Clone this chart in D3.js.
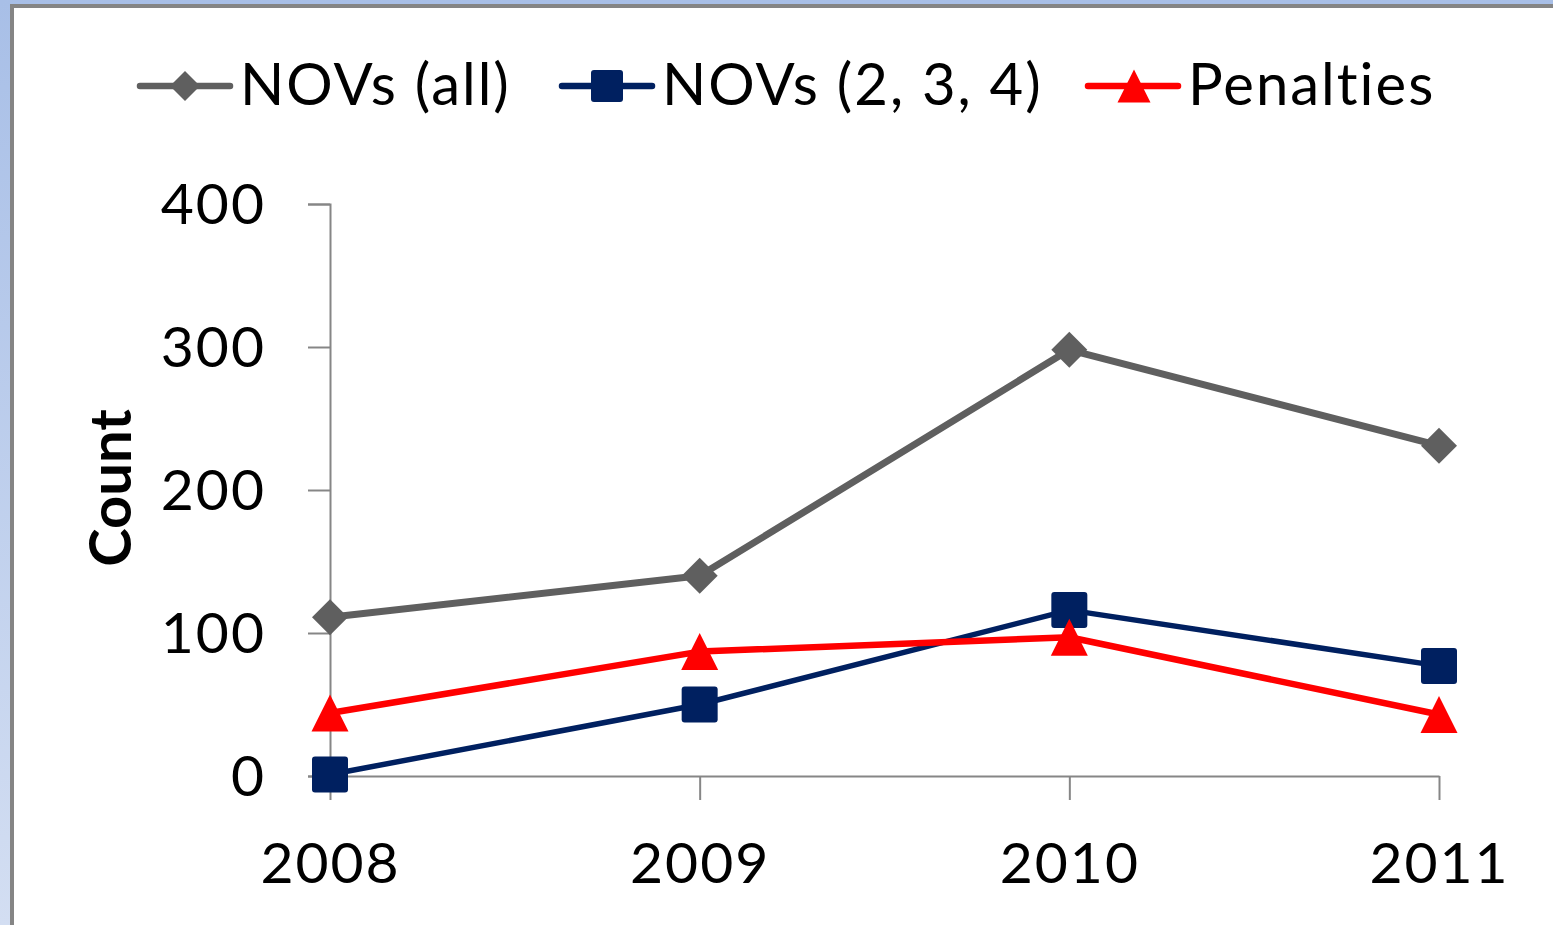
<!DOCTYPE html>
<html>
<head>
<meta charset="utf-8">
<script src="https://cdn.jsdelivr.net/npm/d3@7"></script>
<style>
  body { margin: 0; background: #fff; }
  svg { display: block; font-family: Lato, "Open Sans", sans-serif; font-variant-ligatures: none; }
</style>
</head>
<body>
<div id="chart"></div>
<script>
// data
var years = ["2008", "2009", "2010", "2011"];
var novsAll = [111, 140, 298, 231];
var novs234 = [1, 50, 116, 77];
var penalties = [44, 87, 97, 43];
var yTicks = [0, 100, 200, 300, 400];
var seriesNames = ["NOVs (all)", "NOVs (2, 3, 4)", "Penalties"];

var width = 1553, height = 925;

var svg = d3.select("#chart").append("svg")
    .attr("width", width).attr("height", height);

// slide frame: blue strip on the left/top, grey edge, white area
var defs = svg.append("defs");
var grad = defs.append("linearGradient").attr("id", "bg")
    .attr("x1", 0).attr("y1", 0).attr("x2", 0).attr("y2", 1);
grad.append("stop").attr("offset", "0%").attr("stop-color", "#a8bfe7");
grad.append("stop").attr("offset", "100%").attr("stop-color", "#d3def2");
svg.append("rect").attr("width", width).attr("height", height).attr("fill", "url(#bg)");
svg.append("rect").attr("x", 10).attr("y", 4).attr("width", width).attr("height", height)
    .attr("fill", "#858585");
svg.append("rect").attr("x", 14).attr("y", 8).attr("width", width).attr("height", height)
    .attr("fill", "#ffffff");

var x = d3.scalePoint().domain(years).range([330, 1439]);
var y = d3.scaleLinear().domain([0, 400]).range([776, 204]);

// y axis
var yAxis = svg.append("g").attr("transform", "translate(330,0)")
    .call(d3.axisLeft(y).tickValues(yTicks).tickSize(22).tickPadding(42));
yAxis.select(".domain").attr("stroke", "#868686").attr("stroke-width", 2);
yAxis.selectAll(".tick line").attr("stroke", "#868686").attr("stroke-width", 2);
yAxis.selectAll(".tick text").attr("font-size", 57).attr("fill", "#000")
    .attr("font-family", "Lato, sans-serif").attr("letter-spacing", 2).attr("dy", "0.34em");

// x axis
var xAxis = svg.append("g").attr("transform", "translate(0,776)")
    .call(d3.axisBottom(x).tickSize(24).tickPadding(42).tickSizeOuter(0));
xAxis.select(".domain").attr("stroke", "#868686").attr("stroke-width", 2);
xAxis.selectAll(".tick line").attr("stroke", "#868686").attr("stroke-width", 2);
xAxis.selectAll(".tick text").attr("font-size", 57).attr("fill", "#000")
    .attr("font-family", "Lato, sans-serif").attr("letter-spacing", 2).attr("dy", "0.72em");

// axis title
svg.append("text")
    .attr("transform", "translate(131,488) rotate(-90)")
    .attr("text-anchor", "middle")
    .attr("font-size", 58).attr("font-weight", "bold")
    .text("Count");

// marker shapes
function diamond(g, cx, cy, r, color) {
  g.append("path")
    .attr("d", "M" + cx + "," + (cy - r) + "L" + (cx + r) + "," + cy + "L" + cx + "," + (cy + r) + "L" + (cx - r) + "," + cy + "Z")
    .attr("fill", color);
}
function square(g, cx, cy, s, color) {
  g.append("rect").attr("x", cx - s / 2).attr("y", cy - s / 2)
    .attr("width", s).attr("height", s).attr("rx", 3).attr("fill", color);
}
function triangle(g, cx, cy, w, h, color) {
  g.append("path")
    .attr("d", "M" + cx + "," + (cy - h / 2) + "L" + (cx + w / 2) + "," + (cy + h / 2) + "L" + (cx - w / 2) + "," + (cy + h / 2) + "Z")
    .attr("fill", color);
}

var series = [
  { name: seriesNames[0], values: novsAll, color: "#5f5f5f", marker: "diamond", lw: 7 },
  { name: seriesNames[1], values: novs234, color: "#002060", marker: "square", lw: 5.5 },
  { name: seriesNames[2], values: penalties, color: "#ff0000", marker: "triangle", lw: 6.5 }
];

var line = d3.line().x(function(d, i) { return x(years[i]); }).y(function(d) { return y(d); });

series.forEach(function(s) {
  var g = svg.append("g");
  g.append("path").attr("d", line(s.values))
    .attr("fill", "none").attr("stroke", s.color).attr("stroke-width", s.lw)
    .attr("stroke-linejoin", "round");
  s.values.forEach(function(v, i) {
    var cx = x(years[i]), cy = y(v);
    if (s.marker === "diamond") diamond(g, cx, cy, 18, s.color);
    else if (s.marker === "square") square(g, cx, cy, 36, s.color);
    else triangle(g, cx, cy, 37, 37, s.color);
  });
});

// legend
var legendX = [140, 562, 1088];
series.forEach(function(s, i) {
  var g = svg.append("g").attr("transform", "translate(" + legendX[i] + ",86)");
  g.append("line").attr("x1", 0).attr("x2", 90).attr("y1", 0).attr("y2", 0)
    .attr("stroke", s.color).attr("stroke-width", 6.5).attr("stroke-linecap", "round");
  if (s.marker === "diamond") diamond(g, 45, 0, 15, s.color);
  else if (s.marker === "square") square(g, 45, 0, 32, s.color);
  else triangle(g, 46, 0, 33, 33, s.color);
  g.append("text").attr("x", 100).attr("y", 19)
    .attr("font-size", 58).attr("letter-spacing", 2).attr("fill", "#000").text(s.name);
});
</script>
</body>
</html>
